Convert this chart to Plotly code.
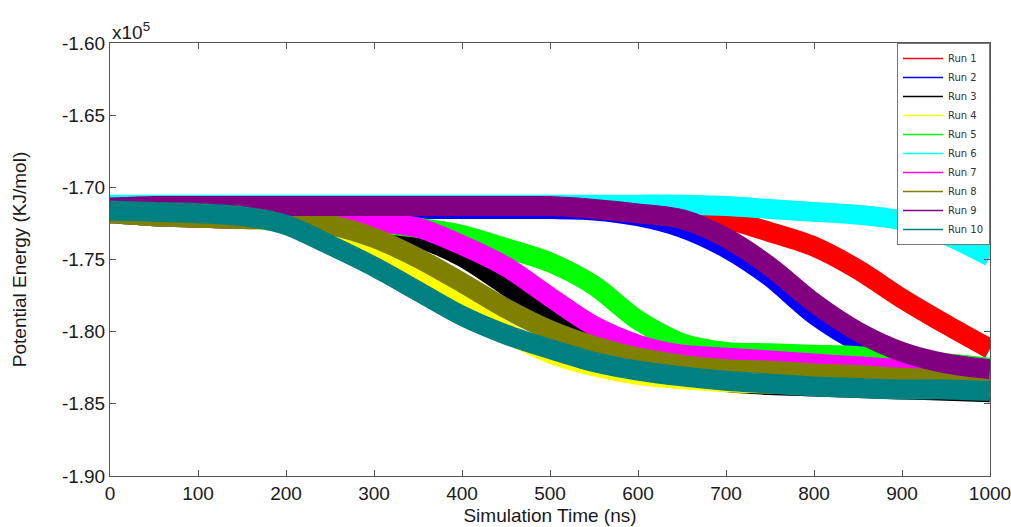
import plotly.graph_objects as go

# Simulation time grid (ns)
time_ns = [0, 50, 100, 150, 200, 250, 300, 350, 400, 450, 500,
           550, 600, 650, 700, 750, 800, 850, 900, 950, 1000]

# Potential energy trend (x10^5 KJ/mol)
run1 = [-1.715, -1.714, -1.714, -1.714, -1.714, -1.714, -1.714, -1.714, -1.714, -1.714, -1.714,
        -1.714, -1.715, -1.716, -1.722, -1.731, -1.741, -1.757, -1.777, -1.795, -1.812]
run2 = [-1.715, -1.714, -1.714, -1.714, -1.714, -1.714, -1.715, -1.715, -1.715, -1.715, -1.715,
        -1.716, -1.720, -1.728, -1.742, -1.762, -1.788, -1.807, -1.820, -1.826, -1.830]
run3 = [-1.718, -1.720, -1.721, -1.722, -1.722, -1.724, -1.728, -1.735, -1.748, -1.768, -1.790,
        -1.810, -1.822, -1.830, -1.835, -1.837, -1.838, -1.839, -1.840, -1.841, -1.842]
run4 = [-1.718, -1.720, -1.721, -1.722, -1.724, -1.732, -1.745, -1.762, -1.780, -1.800, -1.815,
        -1.824, -1.830, -1.833, -1.835, -1.836, -1.837, -1.838, -1.838, -1.838, -1.838]
run5 = [-1.718, -1.720, -1.721, -1.722, -1.722, -1.723, -1.725, -1.728, -1.733, -1.742, -1.752,
        -1.768, -1.792, -1.808, -1.814, -1.815, -1.816, -1.817, -1.820, -1.822, -1.825]
run6 = [-1.712, -1.712, -1.712, -1.712, -1.712, -1.712, -1.712, -1.712, -1.712, -1.712, -1.712,
        -1.712, -1.712, -1.712, -1.713, -1.715, -1.717, -1.719, -1.723, -1.733, -1.748]
run7 = [-1.718, -1.720, -1.721, -1.722, -1.722, -1.723, -1.724, -1.728, -1.740, -1.755, -1.776,
        -1.796, -1.809, -1.816, -1.818, -1.820, -1.822, -1.824, -1.826, -1.828, -1.830]
run8 = [-1.718, -1.720, -1.721, -1.722, -1.722, -1.726, -1.735, -1.749, -1.766, -1.784, -1.799,
        -1.810, -1.818, -1.823, -1.826, -1.827, -1.829, -1.830, -1.832, -1.833, -1.834]
run9 = [-1.714, -1.713, -1.713, -1.713, -1.713, -1.713, -1.713, -1.713, -1.713, -1.713, -1.713,
        -1.715, -1.718, -1.722, -1.735, -1.755, -1.780, -1.800, -1.814, -1.822, -1.826]
run10 = [-1.716, -1.717, -1.718, -1.720, -1.726, -1.740, -1.755, -1.772, -1.789, -1.802, -1.812,
         -1.821, -1.827, -1.831, -1.834, -1.836, -1.838, -1.839, -1.840, -1.840, -1.841]

run_names = ["Run 1", "Run 2", "Run 3", "Run 4", "Run 5",
             "Run 6", "Run 7", "Run 8", "Run 9", "Run 10"]
run_values = [run1, run2, run3, run4, run5, run6, run7, run8, run9, run10]
run_colors = ["#FF0000", "#0000FF", "#000000", "#FFFF00", "#00FF00",
              "#00FFFF", "#FF00FF", "#808000", "#800080", "#008080"]

x_ticks = [0, 100, 200, 300, 400, 500, 600, 700, 800, 900, 1000]
x_tick_text = ["0", "100", "200", "300", "400", "500", "600", "700", "800", "900", "1000"]
y_ticks = [-1.60, -1.65, -1.70, -1.75, -1.80, -1.85, -1.90]
y_tick_text = ["-1.60", "-1.65", "-1.70", "-1.75", "-1.80", "-1.85", "-1.90"]

FONT = "Liberation Sans, Arial, sans-serif"

fig = go.Figure()

# thick bands representing the noisy trajectories
for name, vals, col in zip(run_names, run_values, run_colors):
    fig.add_trace(go.Scatter(
        x=time_ns, y=vals, mode="lines", name=name,
        line=dict(color=col, width=20, shape="spline", smoothing=0.8),
        showlegend=False, legendgroup=name, hoverinfo="x+y+name"))

# thin legend entries
for name, col in zip(run_names, run_colors):
    fig.add_trace(go.Scatter(
        x=[None], y=[None], mode="lines", name=name,
        line=dict(color=col, width=1.5), legendgroup=name, showlegend=True))

axis_common = dict(
    showline=True, linecolor="#555555", linewidth=1, mirror="ticks",
    ticks="inside", ticklen=6, tickcolor="#555555", showgrid=False,
    zeroline=False, automargin=False, ticklabeloverflow="allow",
    tickfont=dict(family=FONT, size=19, color="#1a1a1a"),
)

fig.update_layout(
    width=1011, height=527,
    margin=dict(l=110, r=21, t=43, b=51),
    paper_bgcolor="white", plot_bgcolor="white",
    font=dict(family=FONT, color="#1a1a1a"),
    xaxis=dict(range=[0, 1000], tickvals=x_ticks, ticktext=x_tick_text,
               title=dict(text="Simulation Time (ns)", font=dict(size=19), standoff=5),
               **axis_common),
    yaxis=dict(range=[-1.90, -1.60], tickvals=y_ticks, ticktext=y_tick_text,
               title=dict(text="Potential Energy (KJ/mol)", font=dict(size=19), standoff=30),
               **axis_common),
    legend=dict(x=1, y=1, xanchor="right", yanchor="top",
                bgcolor="white", bordercolor="#777777", borderwidth=1,
                font=dict(family="DejaVu Sans, Verdana, sans-serif", size=10, color="#333333"),
                tracegroupgap=0, itemwidth=40),
    annotations=[dict(text="x10<sup>5</sup>", x=0, y=1, xref="paper", yref="paper",
                      xanchor="left", yanchor="bottom", showarrow=False, yshift=-2,
                      font=dict(size=19, family=FONT, color="#1a1a1a"))],
)

fig.write_html("out.html", config={"displayModeBar": False},
               post_script="document.body.style.margin='0';document.body.style.overflow='hidden';")
